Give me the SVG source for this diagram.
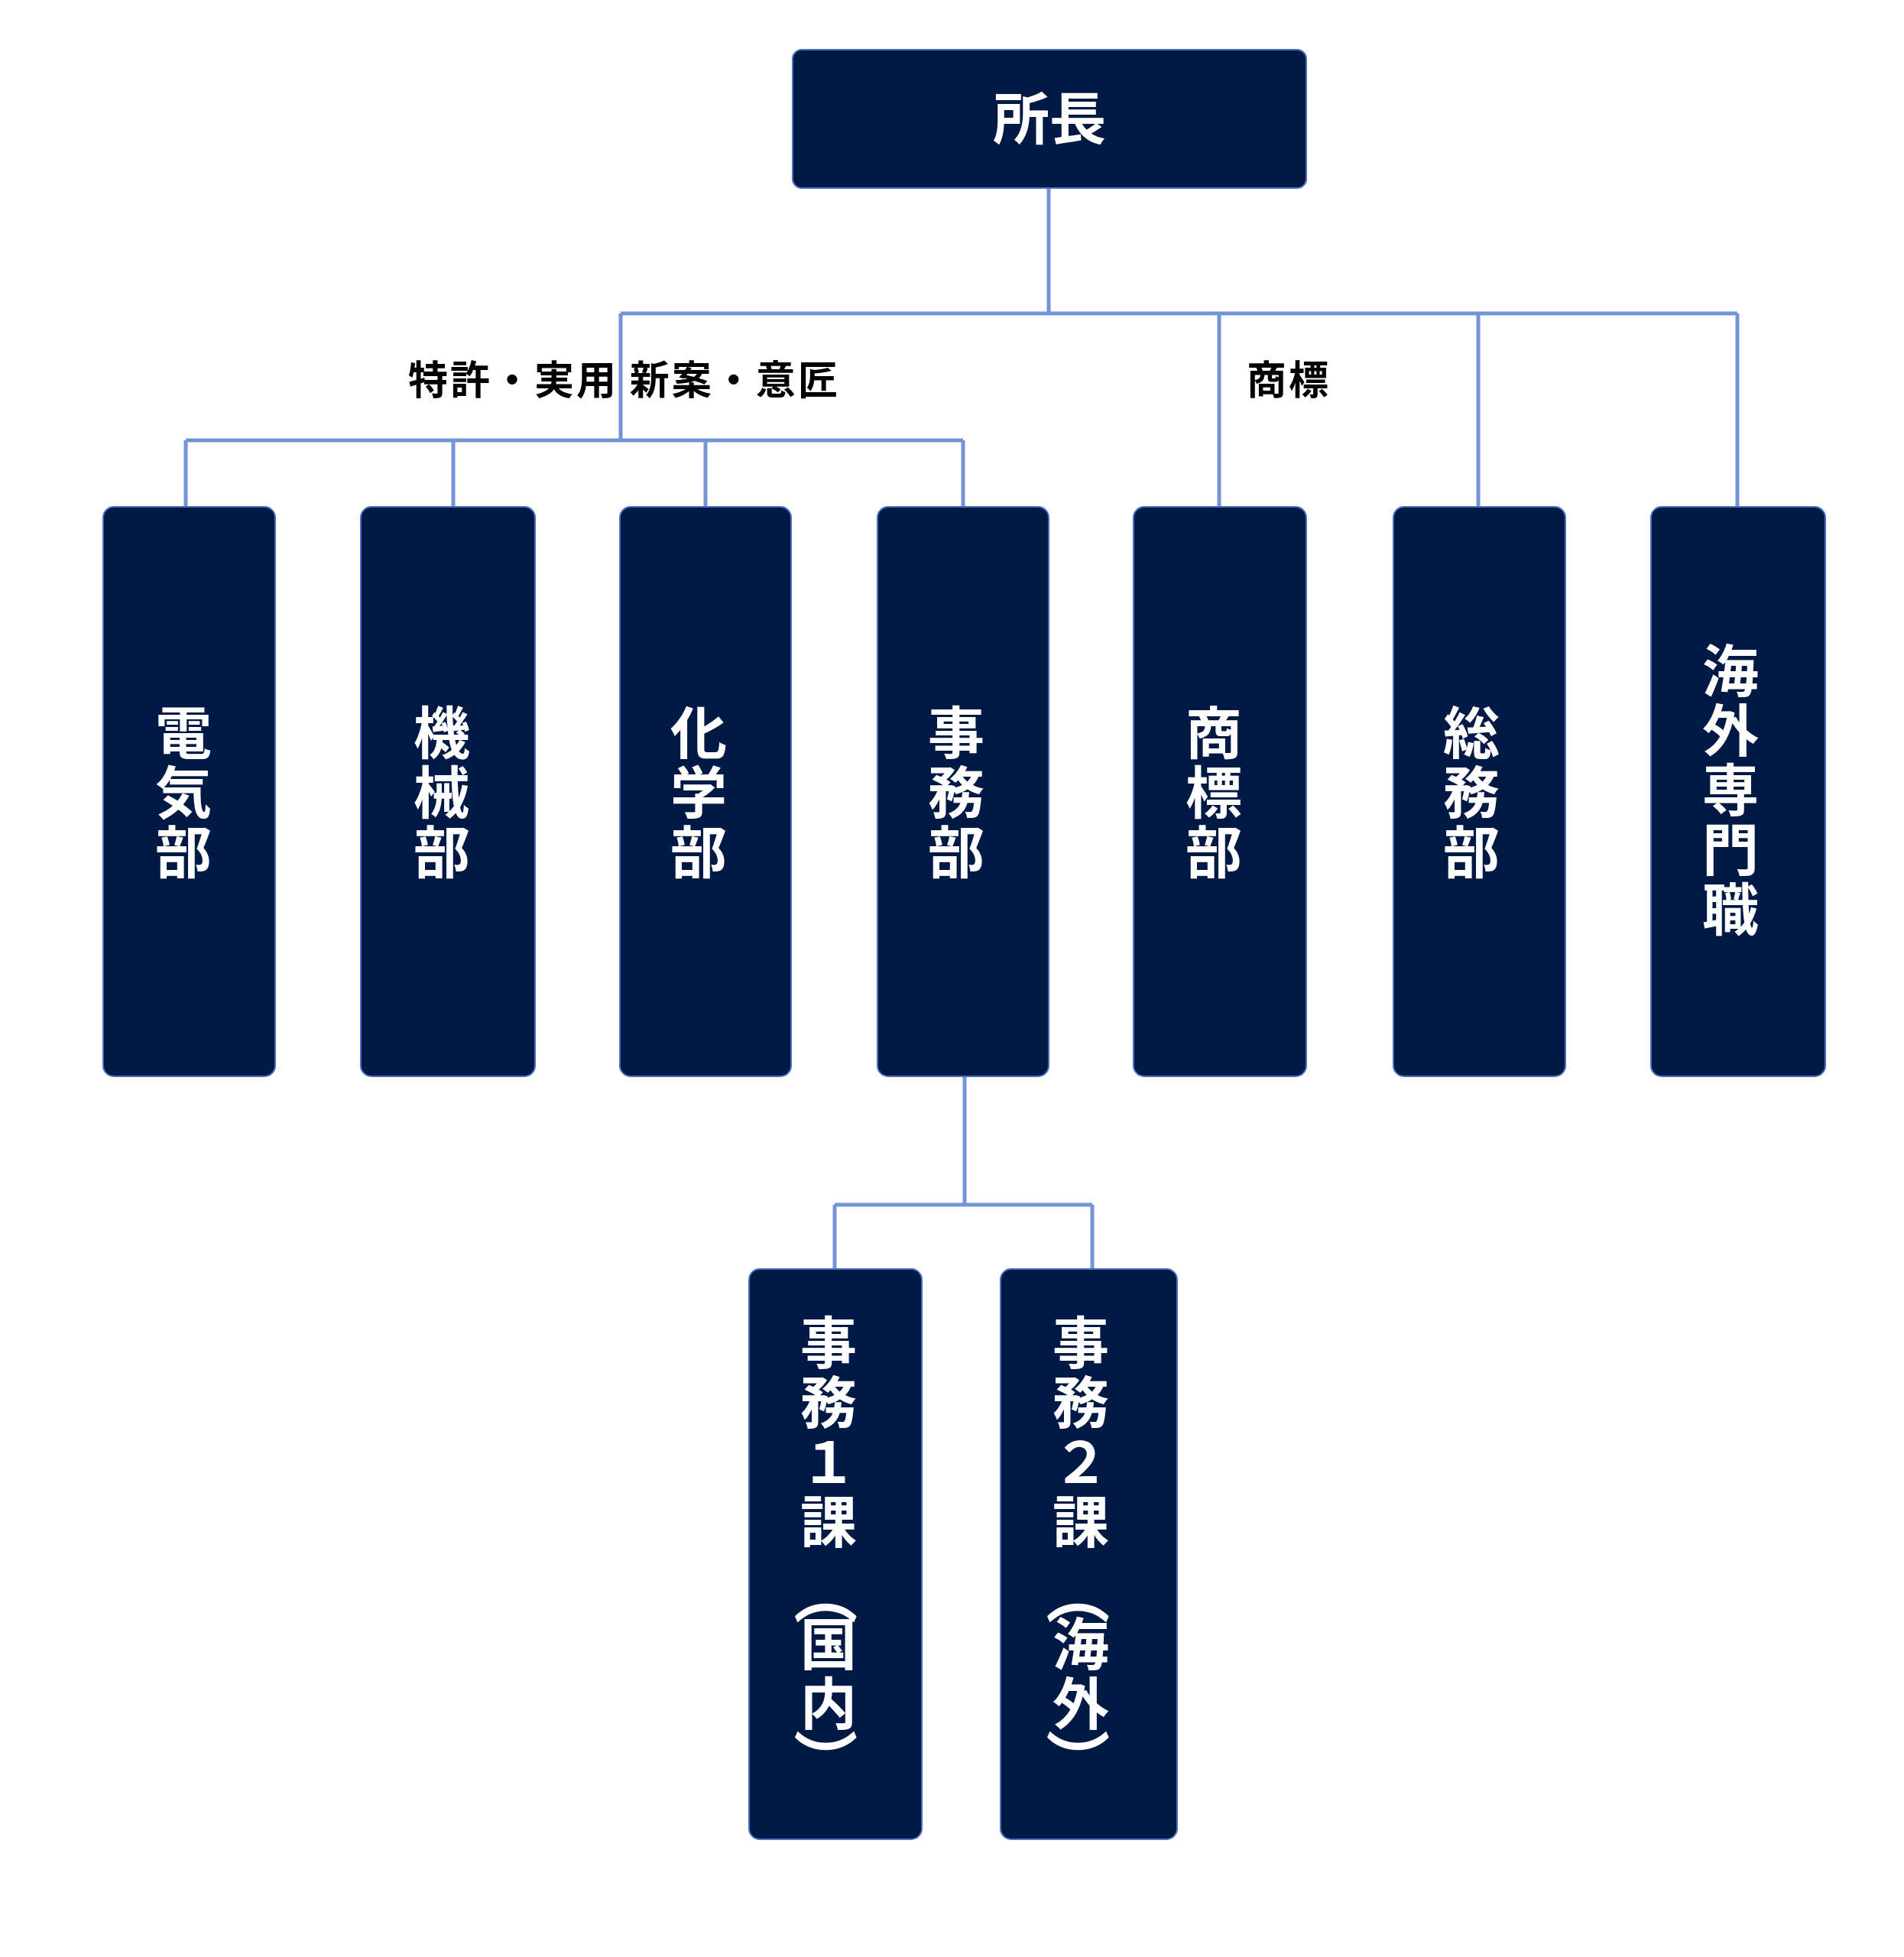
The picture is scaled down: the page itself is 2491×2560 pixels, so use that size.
<svg xmlns="http://www.w3.org/2000/svg" width="2491" height="2560" viewBox="0 0 2491 2560">
<style>
.b{fill:#001A45;stroke:#4A6FC0;stroke-width:2}
.t{font-family:"Noto Sans CJK JP",sans-serif;font-weight:bold;font-size:74px;fill:#fff;text-anchor:middle}
.p{font-family:"Noto Sans CJK JP",sans-serif;font-weight:bold;font-size:84px;fill:#fff;text-anchor:middle;dominant-baseline:central}
.l{font-family:"Noto Sans CJK JP",sans-serif;font-weight:bold;font-size:52px;fill:#000;letter-spacing:3px}
.c{stroke:#7494D8;stroke-width:5;fill:none}
</style>
<rect width="2491" height="2560" fill="#fff"/>
<g id="connectors" class="c">
<path d="M1372 246V410M812 410H2273M812 410V576M243 576H1260M243 576V663M593 576V663M923 576V663M1260 576V663M1595 410V663M1934 410V663M2273 410V663"/>
<path d="M1262 1408V1576M1092 1576H1429M1092 1576V1660M1429 1576V1660"/>
</g>
<g id="labels">
<text class="l" x="534" y="516">特許・実用 新案・意匠</text>
<text class="l" x="1631" y="516">商標</text>
</g>
<g id="n0"><rect class="b" x="1037" y="65" width="672" height="181" rx="12"/><text class="t" x="1373" y="182">所長</text></g>
<g id="n1"><rect class="b" x="135" y="663" width="225" height="745" rx="14"/><text class="t" x="240" y="986">電<tspan x="240" dy="78">気</tspan><tspan x="240" dy="78">部</tspan></text></g>
<g id="n2"><rect class="b" x="472" y="663" width="228" height="745" rx="14"/><text class="t" x="578" y="986">機<tspan x="578" dy="78">械</tspan><tspan x="578" dy="78">部</tspan></text></g>
<g id="n3"><rect class="b" x="811" y="663" width="224" height="745" rx="14"/><text class="t" x="914" y="986">化<tspan x="914" dy="78">学</tspan><tspan x="914" dy="78">部</tspan></text></g>
<g id="n4"><rect class="b" x="1148" y="663" width="224" height="745" rx="14"/><text class="t" x="1251" y="986">事<tspan x="1251" dy="78">務</tspan><tspan x="1251" dy="78">部</tspan></text></g>
<g id="n5"><rect class="b" x="1483" y="663" width="226" height="745" rx="14"/><text class="t" x="1588" y="986">商<tspan x="1588" dy="78">標</tspan><tspan x="1588" dy="78">部</tspan></text></g>
<g id="n6"><rect class="b" x="1823" y="663" width="225" height="745" rx="14"/><text class="t" x="1925" y="986">総<tspan x="1925" dy="78">務</tspan><tspan x="1925" dy="78">部</tspan></text></g>
<g id="n7"><rect class="b" x="2160" y="663" width="228" height="745" rx="14"/><text class="t" x="2264" y="905">海<tspan x="2264" dy="78">外</tspan><tspan x="2264" dy="78">専</tspan><tspan x="2264" dy="78">門</tspan><tspan x="2264" dy="78">職</tspan></text></g>
<g id="n8"><rect class="b" x="980" y="1660" width="226" height="746" rx="14"/><text class="t" x="1084" y="1784">事<tspan x="1084" dy="78">務</tspan><tspan x="1084" dy="78">１</tspan><tspan x="1084" dy="78">課</tspan></text><g transform="translate(1084 2084) rotate(90)"><text class="p" x="0" y="0">（</text></g><text class="t" x="1084" y="2178">国<tspan x="1084" dy="78">内</tspan></text><g transform="translate(1084 2303) rotate(90)"><text class="p" x="0" y="0">）</text></g></g>
<g id="n9"><rect class="b" x="1309" y="1660" width="231" height="746" rx="14"/><text class="t" x="1414" y="1784">事<tspan x="1414" dy="78">務</tspan><tspan x="1414" dy="78">２</tspan><tspan x="1414" dy="78">課</tspan></text><g transform="translate(1414 2084) rotate(90)"><text class="p" x="0" y="0">（</text></g><text class="t" x="1414" y="2178">海<tspan x="1414" dy="78">外</tspan></text><g transform="translate(1414 2303) rotate(90)"><text class="p" x="0" y="0">）</text></g></g>
</svg>
